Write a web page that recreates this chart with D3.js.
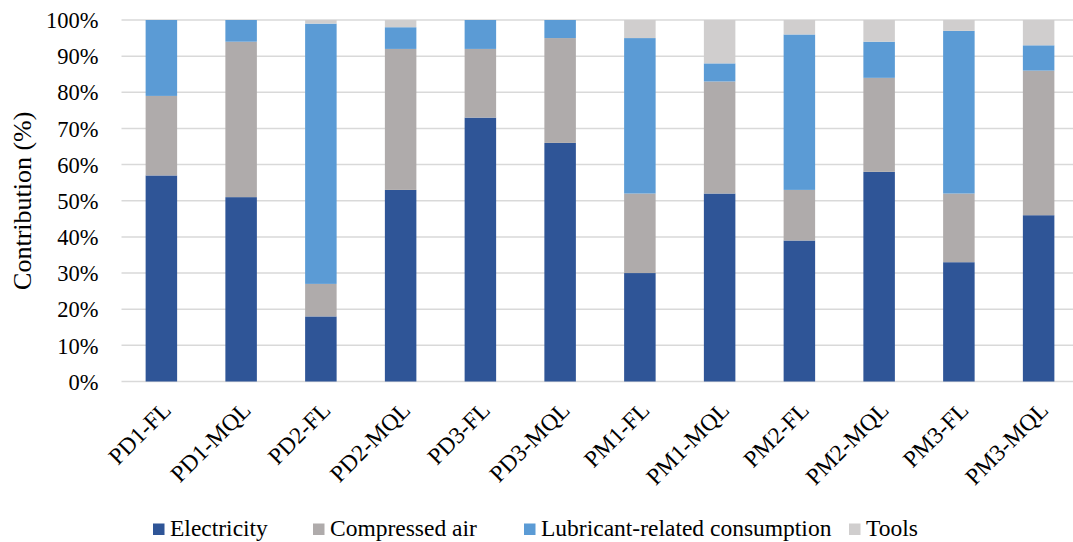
<!DOCTYPE html>
<html>
<head>
<meta charset="utf-8">
<script src="https://cdn.jsdelivr.net/npm/d3@7"></script>
<style>
  body { margin: 0; background: #fff; }
  svg text { font-family: "Liberation Serif", "Times New Roman", serif; fill: #000; }
</style>
</head>
<body>
<svg id="chart" width="1073" height="542"></svg>
<script>
// chart data, in percent
const categories = ["PD1-FL", "PD1-MQL", "PD2-FL", "PD2-MQL", "PD3-FL", "PD3-MQL",
                    "PM1-FL", "PM1-MQL", "PM2-FL", "PM2-MQL", "PM3-FL", "PM3-MQL"];
const seriesNames = ["Electricity", "Compressed air", "Lubricant-related consumption", "Tools"];
const electricity   = [57, 51, 18, 53, 73, 66, 30, 52, 39, 58, 33, 46];
const compressedAir = [22, 43,  9, 39, 19, 29, 22, 31, 14, 26, 19, 40];
const lubricant     = [21,  6, 72,  6,  8,  5, 43,  5, 43, 10, 45,  7];
const tools         = [ 0,  0,  1,  2,  0,  0,  5, 12,  4,  6,  3,  7];
const yTicks = [0, 10, 20, 30, 40, 50, 60, 70, 80, 90, 100];

const colors = ["#2F5597", "#AFABAB", "#5B9BD5", "#D0CECE"];
const serif = "Liberation Serif, Times New Roman, serif";

const svg = d3.select("#chart");
const margin = { left: 121.5, right: -5.5, top: 20, bottom: 160.5 };
const width = 1073 - margin.left - margin.right;
const height = 542 - margin.top - margin.bottom;

const rows = categories.map((c, i) => ({
    cat: c,
    "Electricity": electricity[i],
    "Compressed air": compressedAir[i],
    "Lubricant-related consumption": lubricant[i],
    "Tools": tools[i]
}));
const stacked = d3.stack().keys(seriesNames)(rows);

const x = d3.scaleBand().domain(categories).range([0, width]).paddingInner(0.605).paddingOuter(0.3025);
const y = d3.scaleLinear().domain([0, 100]).range([height, 0]);
const color = d3.scaleOrdinal().domain(seriesNames).range(colors);

const g = svg.append("g").attr("transform", `translate(${margin.left},${margin.top})`);

// gridlines
g.append("g")
    .selectAll("line")
    .data(yTicks)
    .enter().append("line")
    .attr("x1", 0).attr("x2", width)
    .attr("y1", d => y(d)).attr("y2", d => y(d))
    .attr("stroke", "#D9D9D9")
    .attr("stroke-width", 1.5);

// bars
g.append("g")
    .selectAll("g")
    .data(stacked)
    .enter().append("g")
    .attr("fill", d => color(d.key))
    .selectAll("rect")
    .data(d => d)
    .enter().append("rect")
    .attr("x", d => x(d.data.cat))
    .attr("width", x.bandwidth())
    .attr("y", d => y(d[1]))
    .attr("height", d => y(d[0]) - y(d[1]));

// y axis labels
const yAxis = g.append("g")
    .call(d3.axisLeft(y).tickValues(yTicks).tickFormat(d => d + "%").tickSize(0).tickPadding(23));
yAxis.select(".domain").remove();
yAxis.selectAll("text")
    .style("font-size", "22.5px")
    .style("font-family", serif)
    .attr("dy", "0.34em");

// x axis labels
const xAxis = g.append("g")
    .attr("transform", `translate(0,${height})`)
    .call(d3.axisBottom(x).tickSize(0).tickPadding(0));
xAxis.select(".domain").remove();
xAxis.selectAll("text")
    .style("font-size", "23.5px")
    .style("font-family", serif)
    .attr("text-anchor", "end")
    .attr("dy", null)
    .attr("y", 0)
    .attr("transform", "translate(11,30) rotate(-45)");

// y axis title
svg.append("text")
    .attr("transform", `translate(31,${margin.top + height / 2}) rotate(-90)`)
    .attr("text-anchor", "middle")
    .style("font-size", "26px")
    .style("font-family", serif)
    .text("Contribution (%)");

// legend
const legendX = [153, 313, 524, 849];
const legend = svg.append("g").attr("transform", "translate(0,536)");
seriesNames.forEach((name, i) => {
    const item = legend.append("g").attr("transform", `translate(${legendX[i]},0)`);
    item.append("rect")
        .attr("x", 0).attr("y", -12.5)
        .attr("width", 11.5).attr("height", 11.5)
        .attr("fill", colors[i]);
    item.append("text")
        .attr("x", 17).attr("y", 0)
        .style("font-size", "23.5px")
        .style("font-family", serif)
        .text(name);
});
</script>
</body>
</html>
